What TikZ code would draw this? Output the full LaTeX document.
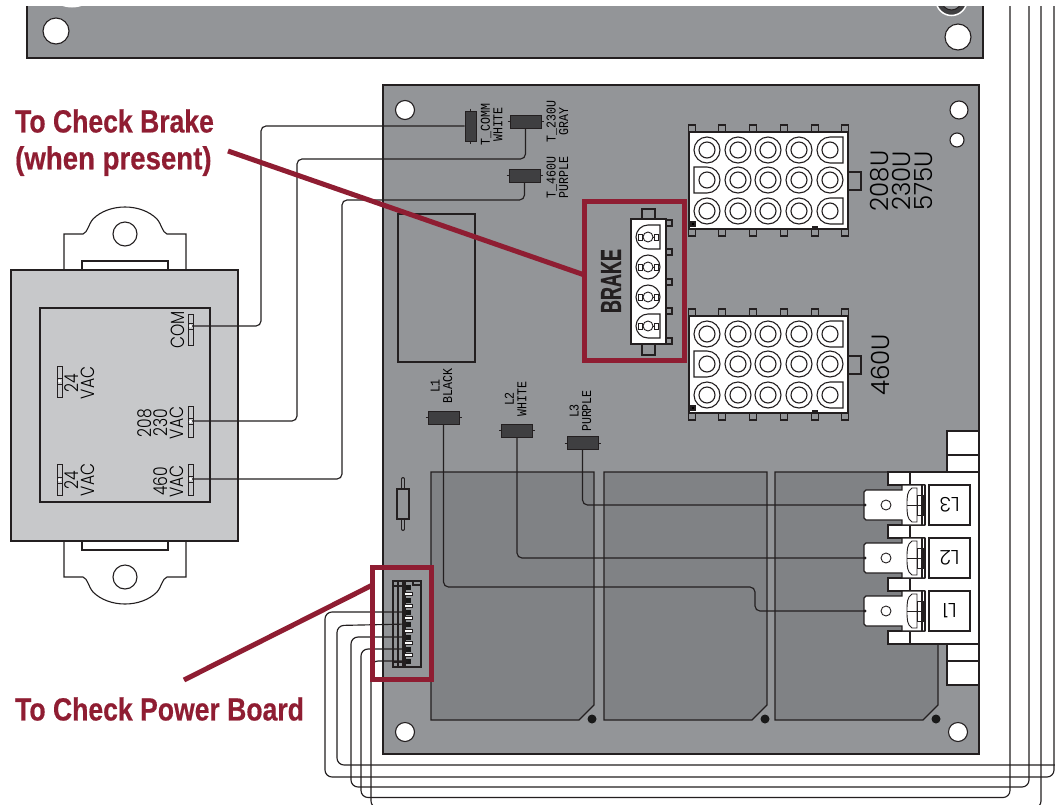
\documentclass[tikz,border=0pt]{standalone}
\usepackage{fontspec}
\setmainfont{Liberation Sans}
\setmonofont{Liberation Mono}
\newfontfamily\thinfont[UprightFont={* Light}]{Poppins}
\newfontfamily\callfont[UprightFont={* Bold},FakeBold=0.5]{Liberation Sans}
\definecolor{panelgray}{HTML}{939598}
\definecolor{darkzone}{HTML}{808285}
\definecolor{xfgray}{HTML}{C7C8CA}
\definecolor{inkline}{HTML}{231F20}
\definecolor{blockdark}{HTML}{3F3F41}
\definecolor{brickred}{HTML}{8F1D32}
\tikzset{
  outl/.style={draw=inkline,line width=1.1pt},
  wire/.style={draw=inkline,line width=1.15pt,rounded corners=5pt},
  loopwire/.style={draw=inkline,line width=1.15pt,rounded corners=7pt},
  redline/.style={draw=brickred,line width=5pt},
  callout/.style={text=brickred,font=\callfont\fontsize{32}{32}\selectfont,anchor=west,inner sep=0pt,xscale=.83},
  tinylabel/.style={font=\ttfamily\fontsize{13.5}{12.5}\selectfont,align=center,rotate=90,inner sep=0pt,xscale=.86},
  xflabel/.style={font=\thinfont\fontsize{19}{16}\selectfont,align=center,rotate=90,inner sep=0pt,xscale=.82},
  biglabel/.style={font=\thinfont\fontsize{25}{22}\selectfont,align=center,rotate=90,inner sep=0pt,xscale=.98},
  termlabel/.style={font=\thinfont\fontsize{20}{20}\selectfont,rotate=180,inner sep=0pt,xscale=1},
  hblock/.style={draw=inkline,fill=blockdark,line width=1pt,minimum width=31pt,minimum height=13pt,inner sep=0pt},
  vblock/.style={draw=inkline,fill=blockdark,line width=1pt,minimum width=11pt,minimum height=30pt,inner sep=0pt},
  xfterm/.style={draw=inkline,fill=xfgray,line width=.9pt,minimum width=5pt,minimum height=31pt,inner sep=0pt},
}
% circular socket with square corners on one side: #1 x, #2 y, #3 radius, #4 side (1 right, -1 left)
\newcommand{\dsocket}[4]{%
  \draw[outl] ({#1},{#2-#3}) -- ({#1+#4*#3},{#2-#3}) -- ({#1+#4*#3},{#2+#3}) -- ({#1},{#2+#3})
    arc[start angle=90,delta angle=#4*180,radius=#3] -- cycle;}
\newcommand{\plugblock}{%
  \foreach \tx in {692,722,753,784,815,845}{
    \draw[outl,fill=panelgray] (\tx-3.5,125) rectangle (\tx+3.5,132);
    \draw[outl,fill=panelgray] (\tx-3.5,229) rectangle (\tx+3.5,236);
  }
  \draw[outl,fill=panelgray] (848,172) rectangle (861,190);
  \draw[outl,fill=white] (689,132) rectangle (848,229);
  \foreach \cx/\cy in {707/150,738/150,768/150,799/150,
                       738/180,768/180,799/180,830/180,
                       707/211,738/211,768/211,799/211}{
    \draw[outl] (\cx,\cy) circle[radius=13];
  }
  \dsocket{830}{150}{13}{1}
  \dsocket{707}{180}{13}{-1}
  \dsocket{830}{211}{13}{1}
  \foreach \cx in {707,738,768,799,830}{
    \foreach \cy in {150,180,211}{
      \draw[outl] (\cx,\cy) circle[radius=8];
    }
  }
  \draw[outl,fill=black] (691,222) rectangle (695,226);
  \draw[outl,fill=black] (813,227) rectangle (817,229);
}
\newcommand{\brakepin}[1]{%
  \draw[outl,line width=.9pt] (648,#1) circle[radius=5];
  \draw[outl,line width=.9pt] (638,#1-3) rectangle (642,#1+3);
  \draw[outl,line width=.9pt] (654,#1-3) rectangle (658,#1+3);
  \draw[outl,line width=.9pt] (642,#1) -- (643,#1) (653,#1) -- (654,#1);
}
% faston terminal: #1 = centre y, #2 = label
\newcommand{\faston}[3]{%
  \draw[outl,fill=white] (866,#1-15) -- (902,#1-15) -- (902,#1-20) -- (925,#1-20) -- (925,#1+20)
     -- (902,#1+20) -- (902,#1+15) -- (866,#1+15) -- (864,#1+13) -- (864,#1-13) -- cycle;
  \draw[outl,line width=.9pt] (886,#1) circle[radius=5];
  \draw[outl,line width=.9pt] (917,#1-17) -- (912,#1-17) .. controls (907,#1-14) and (907,#1-8) .. (907,#1)
     .. controls (907,#1+8) and (907,#1+14) .. (912,#1+17) -- (917,#1+17) -- cycle;
  \draw[outl,line width=.9pt] (907,#1) -- (923,#1);
  \draw[outl,line width=.9pt] (917,#1-10) rectangle (923,#1+10);
  \draw[outl] (922,#1-20) -- (922,#1+20) (925,#1-20) -- (925,#1+20);
  \node[outl,fill=white,minimum width=41pt,minimum height=40pt,inner sep=0pt] (#3box) at (949.5,#1) {};
  \node[termlabel] (#3label) at (949.5,#1) {#2};
  \coordinate (#3pin) at (865,#1);
}
\begin{document}
\begin{tikzpicture}[x=1pt,y=-1pt]
\clip (0,0) rectangle (1055,804);
\fill[white] (0,0) rectangle (1055,804);
% ---- top panel ----
\begin{scope}
\clip (0,6) rectangle (1055,804);
\fill[panelgray] (27,0) rectangle (983,58);
\draw[outl] (27,0) -- (27,58) -- (983,58) -- (983,0);
\fill[white] (72,-22.5) circle[radius=30];
\draw[white,line width=1.5pt,fill=blockdark] (951.5,0) circle[radius=15.5];
\draw[inkline,fill=panelgray,line width=1pt] (951.5,0) circle[radius=10];
\end{scope}
\draw[outl,fill=white] (56,31) circle[radius=13];
\draw[outl,fill=white] (958,37) circle[radius=13];
% ---- board ----
\draw[outl,fill=panelgray] (383,85) rectangle (979,754);
\foreach \p/\r in {{405,110}/9.5,{959,110}/9,{957,140}/7,{405,732}/9.5,{958,732}/9.5}{
  \draw[outl,fill=white] (\p) circle[radius=\r];
}
\draw[outl] (398,214) rectangle (475,362);
\foreach \xa/\xb in {431/594,604/767,775/938}{
  \draw[outl,fill=darkzone] (\xa,472) -- (\xb,472) -- (\xb,705) -- ({\xb-15},720) -- (\xa,720) -- cycle;
  \fill[black!90] ({\xb-2},719) circle[radius=4.5];
}
% ---- plug blocks ----
\plugblock
\begin{scope}[shift={(0,184)}]
\plugblock
\end{scope}
\node[biglabel] (lbltop) at (901,181) {208U\\230U\\575U};
\node[biglabel] (lbllow) at (880,365) {460U};
% ---- brake connector ----
\draw[outl,fill=panelgray] (642,209) rectangle (655,219);
\draw[outl,fill=panelgray] (642,344) rectangle (655,355);
\foreach \ty in {223,252,282,311,341}{
  \draw[outl,fill=panelgray] (666,\ty-3) rectangle (672,\ty+3);
}
\draw[outl,fill=white] (631,219) rectangle (666,344);
\foreach \cy in {267,297}{ \draw[outl] (648,\cy) circle[radius=12]; }
\dsocket{648}{237}{12}{1}
\dsocket{648}{326}{12}{1}
\foreach \cy in {237,267,297,326}{ \brakepin{\cy} }
\node[text=inkline,font=\callfont\fontsize{29}{29}\selectfont,rotate=90,inner sep=0pt,xscale=.62] (brakelabel) at (611,281) {BRAKE};
% ---- small resistor ----
\draw[inkline,line width=4pt,line cap=round] (403,479) -- (403,490) (403,518) -- (403,529);
\draw[panelgray,line width=1.8pt,line cap=round] (403,479) -- (403,490) (403,518) -- (403,529);
\node[outl,fill=panelgray,minimum width=12pt,minimum height=30pt,inner sep=0pt] (resist) at (403,504) {};
% ---- terminal block ----
\draw[outl,fill=white] (947,431) rectangle (979,472);
\draw[outl] (947,455) -- (979,455);
\draw[outl,fill=white] (947,644) rectangle (979,685);
\draw[outl] (947,661) -- (979,661);
\fill[white] (910,472) rectangle (979,644);
\draw[outl] (910,472) -- (979,472) (910,644) -- (979,644) (979,472) -- (979,644);
\foreach \ya/\yb in {472/485,525/538,578/591,631/644}{
  \draw[outl,fill=white] (888,\ya) rectangle (910,\yb);
  \draw[outl] (910,\ya) -- (925,\ya) (910,\yb) -- (925,\yb);
}
\faston{505}{L3}{lthree}
\faston{558}{L2}{ltwo}
\faston{611}{L1}{lone}
% ---- board blocks and labels ----
\node[vblock] (tcomm) at (470.5,126) {};
\node[hblock] (tgray) at (525.5,121.5) {};
\node[hblock] (tpurple) at (524.5,175.5) {};
\node[hblock] (blkl1) at (443.5,417.5) {};
\node[hblock] (blkl2) at (517,430.5) {};
\node[hblock] (blkl3) at (582.5,443) {};
\foreach \n in {tgray,tpurple,blkl1,blkl2,blkl3}{
  \draw[inkline,line width=.8pt] ([xshift=-2pt]\n.west) -- (\n.west) (\n.east) -- ([xshift=2pt]\n.east);
}
\draw[inkline,line width=.8pt] ([yshift=2pt]tcomm.north) -- (tcomm.north) (tcomm.south) -- ([yshift=-2pt]tcomm.south);
\node[tinylabel] (lblcomm) at (491.5,124.5) {T\_COMM\\WHITE};
\node[tinylabel] (lblgray) at (557.5,121.7) {T\_230U\\GRAY};
\node[tinylabel] (lblpurple) at (557.5,177.5) {T\_460U\\PURPLE};
\node[tinylabel] (lbll1) at (441.5,386) {L1\\BLACK};
\node[tinylabel] (lbll2) at (515.5,399) {L2\\WHITE};
\node[tinylabel] (lbll3) at (580.5,411) {L3\\PURPLE};
% ---- board wires ----
\draw[wire] (blkl1.south) -- (443.5,587) -- (755,587) -- (755,611) -- (lonepin);
\draw[wire] (blkl2.south) -- (517,558) -- (ltwopin);
\draw[wire] (blkl3.south) -- (582.5,505) -- (lthreepin);
\foreach \n in {lonepin,ltwopin,lthreepin}{ \fill[inkline] (\n) circle[radius=1.6]; }
% ---- transformer ----
\foreach \yflip/\sgn in {0/1,811/-1}{
  \begin{scope}[shift={(0,\yflip)},y={(0pt,-\sgn pt)}]
    \draw[outl,fill=white] (64,270) -- (64,234) -- (83,234) .. controls (88,232) and (88,225) .. (93,219)
      .. controls (101,211) and (113,207) .. (125,207) .. controls (137,207) and (149,211) .. (157,219)
      .. controls (162,225) and (162,232) .. (167,234) -- (186,234) -- (186,270);
    \draw[outl] (125,234) circle[radius=12];
    \draw[outl,fill=white] (82,270) -- (82,261) -- (168,261) -- (168,270);
  \end{scope}
}
\draw[outl,fill=xfgray] (11,270) rectangle (238,541);
\draw[outl] (40,308) rectangle (210,502);
\node[xfterm] (tcom) at (190.5,329.5) {};
\node[xfterm] (t208) at (190.5,421.5) {};
\node[xfterm] (t460) at (190.5,480) {};
\node[xfterm] (t24a) at (59.5,382) {};
\node[xfterm] (t24b) at (59.5,480) {};
\foreach \n/\dy in {tcom/-3.5,t208/0,t460/-1,t24a/-1,t24b/0}{
  \draw[inkline,line width=.8pt] ([yshift=-\dy pt+3pt,xshift=-2.5pt]\n.center) -- ++(5pt,0pt) ([yshift=-\dy pt-3pt,xshift=-2.5pt]\n.center) -- ++(5pt,0pt);
  \fill[white] ([yshift=-\dy pt]\n.center) circle[radius=1.6];
}
\node[xflabel] (lblcom) at (178,330) {COM};
\node[xflabel] (lbl24a) at (80,383) {24\\VAC};
\node[xflabel] (lbl24b) at (80,480) {24\\VAC};
\node[xflabel] (lbl208) at (161,423) {208\\230\\VAC};
\node[xflabel] (lbl460) at (169,481.5) {460\\VAC};
% ---- transformer wires ----
\draw[wire] (tcomm.west) -- (261,126) -- (261,326) -- (192,326);
\draw[wire] (tgray.south) -- (525.5,159) -- (297,159) -- (297,421) -- (192,421);
\draw[wire] (tpurple.south) -- (524.5,200) -- (342,200) -- (342,479) -- (192,479);
% ---- power board connector ----
\node[outl,minimum width=28pt,minimum height=86pt,inner sep=0pt] (pbconn) at (407,624) {};
\draw[outl] (398,581) -- (398,667) (403,581) -- (403,667) (393,586) -- (403,586) (393,662) -- (403,662);
\draw[outl] (405,581) -- (405,667) (413,581) -- (413,585) -- (421,585);
\foreach \dy in {587,600,612,624,637,649,661}{
  \fill[black!90] (405.5,\dy-2.5) rectangle (410.5,\dy+2.5);
}
\foreach \dy in {593.5,606,618,630.5,643,655}{
  \draw[outl,line width=.9pt,fill=white] (404.5,\dy-1.5) rectangle (412,\dy+1.5);
}
\coordinate (pb1) at (408,612);
\coordinate (pb2) at (408,624);
\coordinate (pb3) at (408,637);
\coordinate (pb4) at (408,649);
\coordinate (pb5) at (408,661);
% ---- long wires ----
\draw[loopwire] (pb1) -- (325,612) -- (325,777) -- (1054,777) -- (1054,6);
\draw[loopwire] (pb2) -- (337,625.5) -- (337,765) -- (1065,765);
\draw[loopwire] (pb3) -- (351,637) -- (351,787) -- (1029,787) -- (1029,6);
\draw[loopwire] (pb4) -- (361,649) -- (361,797.5) -- (1010,797.5) -- (1010,6);
\draw[loopwire] (pb5) -- (371,661) -- (371,808) -- (1041,808) -- (1041,6);
% ---- red callouts ----
\draw[redline] (584.5,275) -- (228,151);
\draw[redline] (372.5,585) -- (184,680);
\node[redline,minimum width=100pt,minimum height=159pt,inner sep=0pt] (brakebox) at (634.5,281) {};
\node[redline,minimum width=59pt,minimum height=112pt,inner sep=0pt] (pbbox) at (402,623.5) {};
\node[callout] (cap1) at (15,121) {To Check Brake};
\node[callout,xscale=1.04] (cap2) at (15,161) {(when present)};
\node[callout] (cap3) at (15,709) {To Check Power Board};
\end{tikzpicture}
\end{document}
